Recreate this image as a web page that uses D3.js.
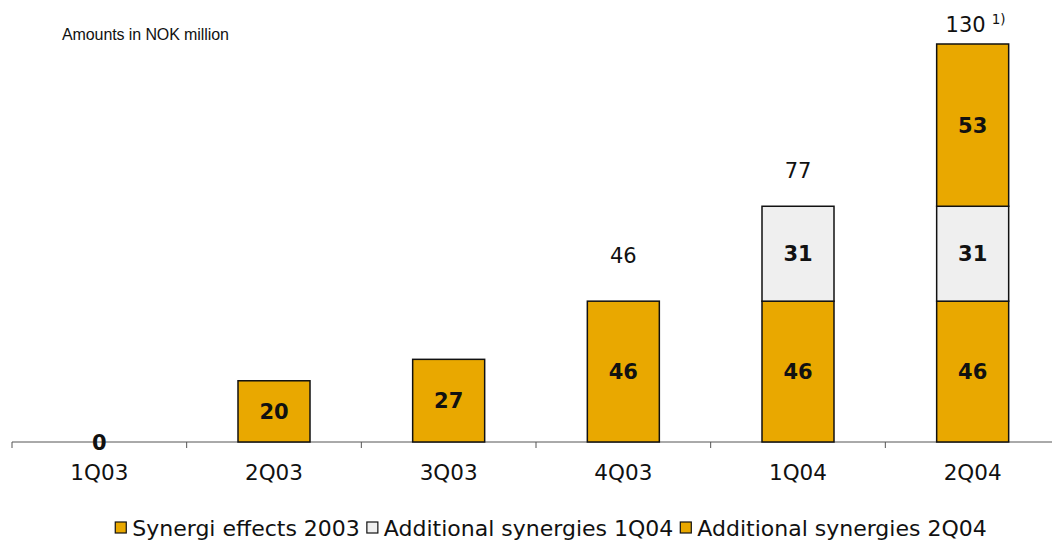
<!DOCTYPE html>
<html>
<head>
<meta charset="utf-8">
<script src="https://cdn.jsdelivr.net/npm/d3@7"></script>
<style>
  body { margin: 0; background: #fff; }
  svg { display: block; }
</style>
</head>
<body>
<div id="chart"></div>
<script>
// chart values
var categories = ["1Q03", "2Q03", "3Q03", "4Q03", "1Q04", "2Q04"];
var synergi2003 = [0, 20, 27, 46, 46, 46];
var additional1Q04 = [0, 0, 0, 0, 31, 31];
var additional2Q04 = [0, 0, 0, 0, 0, 53];
var totalLabels = ["", "", "", "46", "77", "130"];
var totalNotes = ["", "", "", "", "", "1)"];
var seriesNames = ["Synergi effects 2003", "Additional synergies 1Q04", "Additional synergies 2Q04"];

var width = 1052, height = 545;
var orange = "#e9a800", grey = "#efefef";
var font = "'DejaVu Sans', Verdana, sans-serif";

var svg = d3.select("#chart")
  .append("svg")
    .attr("width", width)
    .attr("height", height);

var x = d3.scaleBand()
  .domain(categories)
  .range([12, 1060])
  .padding(0);

var y = d3.scaleLinear()
  .domain([0, 130])
  .range([442, 44]);

var barWidth = 72;

// stack the series
var rows = categories.map(function(c, i) {
  return { cat: c, s0: synergi2003[i], s1: additional1Q04[i], s2: additional2Q04[i] };
});
var stack = d3.stack().keys(["s0", "s1", "s2"]);
var layers = stack(rows);
var fills = [orange, grey, orange];

// title
svg.append("text")
  .attr("x", 62)
  .attr("y", 40)
  .style("font-family", "'Liberation Sans', Arial, sans-serif")
  .style("font-size", "16px")
  .style("letter-spacing", "-0.1px")
  .attr("fill", "#111")
  .text("Amounts in NOK million");

// x axis
var axis = svg.append("g")
  .attr("transform", "translate(0," + y(0) + ")")
  .call(d3.axisBottom(x).tickSize(0).tickPadding(23));
axis.select(".domain").attr("stroke", "#555").attr("d", "M12,0H1052");
axis.selectAll("text")
  .style("font-family", font)
  .style("font-size", "21.5px")
  .attr("fill", "#111");

// ticks at category borders
svg.append("g")
  .selectAll("line")
  .data(categories)
  .enter()
  .append("line")
    .attr("x1", function(d) { return x(d); })
    .attr("x2", function(d) { return x(d); })
    .attr("y1", y(0))
    .attr("y2", y(0) + 6)
    .attr("stroke", "#555");

// bars
layers.forEach(function(layer, li) {
  svg.append("g")
    .selectAll("rect")
    .data(layer.filter(function(d) { return d[1] - d[0] > 0; }))
    .enter()
    .append("rect")
      .attr("x", function(d) { return x(d.data.cat) + (x.bandwidth() - barWidth) / 2; })
      .attr("y", function(d) { return y(d[1]); })
      .attr("width", barWidth)
      .attr("height", function(d) { return y(d[0]) - y(d[1]); })
      .attr("fill", fills[li])
      .attr("stroke", "#111")
      .attr("stroke-width", 1.5);
});

// segment labels
layers.forEach(function(layer, li) {
  svg.append("g")
    .selectAll("text")
    .data(layer.filter(function(d) { return d[1] - d[0] > 0 || (li === 0 && d.data.cat === "1Q03"); }))
    .enter()
    .append("text")
      .attr("x", function(d) { return x(d.data.cat) + x.bandwidth() / 2; })
      .attr("y", function(d) { return (y(d[0]) + y(d[1])) / 2; })
      .attr("dy", "0.36em")
      .attr("text-anchor", "middle")
      .style("font-family", font)
      .style("font-size", "21px")
      .style("font-weight", "bold")
      .attr("fill", "#111")
      .text(function(d) { return d[1] - d[0]; });
});

// totals above the bars (baseline lift above bar top)
var totalLift = [0, 0, 0, 38, 28, 12];
var totals = svg.append("g")
  .selectAll("text")
  .data(rows.filter(function(d, i) { return totalLabels[i] !== ""; }))
  .enter()
  .append("text")
    .attr("x", function(d) { return x(d.cat) + x.bandwidth() / 2; })
    .attr("y", function(d) {
      var i = categories.indexOf(d.cat);
      return y(d.s0 + d.s1 + d.s2) - totalLift[i];
    })
    .attr("text-anchor", "middle")
    .style("font-family", font)
    .style("font-size", "21px")
    .attr("fill", "#111")
    .text(function(d) { return totalLabels[categories.indexOf(d.cat)]; });

totals.each(function(d) {
  var i = categories.indexOf(d.cat);
  if (totalNotes[i] === "") return;
  var t = d3.select(this);
  t.attr("text-anchor", "start");
  var w = this.getComputedTextLength();
  t.attr("x", x(d.cat) + x.bandwidth() / 2 - w / 2 - 7);
  t.append("tspan")
    .attr("dx", 6)
    .attr("dy", "-0.62em")
    .style("font-size", "13.5px")
    .text(totalNotes[i]);
});

// legend
var legend = svg.append("g").attr("transform", "translate(0,536)");
var items = [];
seriesNames.forEach(function(name, i) {
  var g = legend.append("g");
  g.append("rect")
    .attr("x", 0)
    .attr("y", -14)
    .attr("width", 11)
    .attr("height", 11)
    .attr("fill", fills[i])
    .attr("stroke", "#111")
    .attr("stroke-width", 1.2);
  var t = g.append("text")
    .attr("x", 17)
    .attr("y", 0)
    .style("font-family", font)
    .style("font-size", "22px")
    .attr("fill", "#111")
    .text(name);
  var w = 17 + t.node().getComputedTextLength();
  items.push({ g: g, w: w });
});
var gap = 7;
var total = d3.sum(items, function(d) { return d.w; }) + gap * (items.length - 1);
var cursor = 551 - total / 2;
items.forEach(function(it) {
  it.g.attr("transform", "translate(" + cursor + ",0)");
  cursor += it.w + gap;
});
</script>
</body>
</html>
